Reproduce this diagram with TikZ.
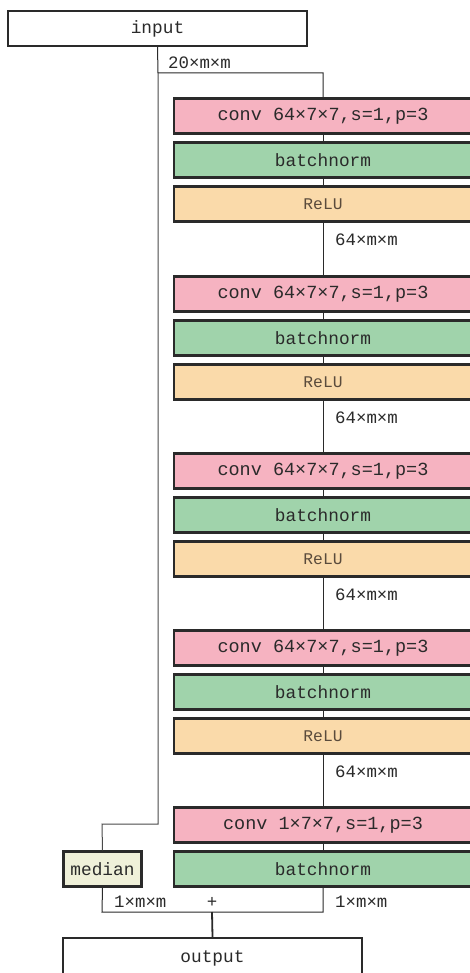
\documentclass[tikz,border=0pt]{standalone}
\usepackage{fontspec}
\setmonofont{Liberation Mono}
\definecolor{convfill}{HTML}{F6B3C1}
\definecolor{bnfill}{HTML}{A0D3AB}
\definecolor{relufill}{HTML}{FADAAA}
\definecolor{medfill}{HTML}{EFF0D9}
\definecolor{ink}{HTML}{2A2A2A}
\definecolor{reluink}{HTML}{5A4B3C}
\begin{document}
\begin{tikzpicture}[x=1pt,y=-1pt,
  layer/.style={draw=ink,line width=2.3pt,minimum height=35pt,inner sep=0pt,
    text=ink,font=\ttfamily\fontsize{17.8}{19}\selectfont},
  wide/.style={layer,minimum width=298pt},
  convbox/.style={wide,fill=convfill,font=\ttfamily\fontsize{18.5}{19}\selectfont},
  bnbox/.style={wide,fill=bnfill},
  relubox/.style={wide,fill=relufill,text=reluink,font=\ttfamily\fontsize{16.3}{18}\selectfont},
  iobox/.style={layer,minimum width=299pt,fill=white},
  medbox/.style={layer,minimum width=78pt,fill=medfill},
  link/.style={draw=ink,line width=1pt},
  lbl/.style={anchor=west,inner sep=0pt,text=ink,font=\ttfamily\fontsize{17.4}{18}\selectfont}]
\useasboundingbox (0,0) rectangle (470,973);
\clip (0,0) rectangle (470,973);
\fill[white] (0,0) rectangle (470,973);

% input and the split of its feature map
\node[iobox] (in) at (157.5,28.5) {input};
\coordinate (split) at (158,73);
\coordinate (skipturn) at (158,824);
\coordinate (medin) at (102,824);

% four conv -> batchnorm -> ReLU stages
\foreach \i/\y in {1/116,2/294,3/471,4/648}{
  \node[convbox] (c\i) at (323,\y) {conv 64×7×7,s=1,p=3};
  \node[bnbox] (b\i) at (323,\y+44) {batchnorm};
  \node[relubox] (r\i) at (323,\y+88) {ReLU};
  \draw[link] (c\i) -- (b\i);
  \draw[link] (b\i) -- (r\i);
}
% final conv and batchnorm
\node[convbox] (c5) at (323,825) {conv 1×7×7,s=1,p=3};
\node[bnbox] (b5) at (323,869) {batchnorm};
\draw[link] (c5) -- (b5);

% median branch and output
\node[medbox] (med) at (102.5,869) {median};
\node[iobox,minimum height=40pt] (out) at (212.5,958) {output};

% main path
\draw[link] (in.south) -- (split) -| (c1.north);
\foreach \a/\b in {1/2,2/3,3/4,4/5}{
  \draw[link] (r\a.south) -- (c\b.north);
  \node[lbl] at ([xshift=12pt,yshift=-17pt]r\a.south) {64×m×m};
}
\node[lbl] at (168,63) {20×m×m};

% skip path to the median
\draw[draw=ink!85,line width=1pt] (split) -- (skipturn) -- (medin) -- (med.north);

% sum of both branches
\coordinate (sumL) at (102,912);
\coordinate (sumR) at (323,912);
\coordinate (sumM) at (212,912);
\draw[link] (med.south) -- (sumL) -- (sumR) -- (b5.south);
\draw[draw=ink,line width=1.8pt] (sumM) -- (out.north);
\node[lbl] at (114,902) {1×m×m};
\node[lbl] at (335,902) {1×m×m};
\node[lbl,anchor=center] at (212,902) {+};
\end{tikzpicture}
\end{document}
